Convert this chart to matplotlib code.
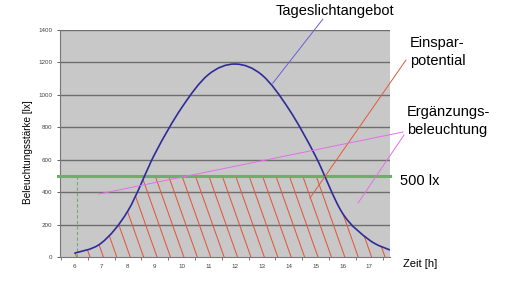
import numpy as np
import matplotlib.pyplot as plt
from matplotlib.lines import Line2D
from matplotlib.path import Path
from matplotlib.patches import PathPatch

# daylight curve
hours = [6, 7, 8, 9, 10, 11, 12, 13, 14, 15, 16, 17, 17.77]
lux = [23, 85, 285, 635, 920, 1125, 1190, 1122, 912, 620, 270, 105, 43]
target = 500
y_ticks = [0, 200, 400, 600, 800, 1000, 1200, 1400]
x_ticks = list(range(6, 18))


def smooth_path(xs, ys, close_to=None):
    # smoothed line like the spreadsheet one (catmull-rom -> bezier)
    p = np.column_stack([xs, ys]).astype(float)
    n = len(p)
    verts, codes = [], []
    if close_to is not None:
        verts += [(p[0, 0], close_to), tuple(p[0])]
        codes += [Path.MOVETO, Path.LINETO]
    else:
        verts += [tuple(p[0])]
        codes += [Path.MOVETO]
    for i in range(n - 1):
        p0 = p[max(i - 1, 0)]
        p1, p2 = p[i], p[i + 1]
        p3 = p[min(i + 2, n - 1)]
        c1 = p1 + (p2 - p0) / 6
        c2 = p2 - (p3 - p1) / 6
        verts += [tuple(c1), tuple(c2), tuple(p2)]
        codes += [Path.CURVE4] * 3
    if close_to is not None:
        verts += [(p[-1, 0], close_to), (p[0, 0], close_to)]
        codes += [Path.LINETO, Path.CLOSEPOLY]
    return Path(verts, codes)


W, H = 506, 283
fig = plt.figure(figsize=(W / 100, H / 100), dpi=100)
plt.rcParams['font.family'] = ['Liberation Sans', 'DejaVu Sans']
ax = fig.add_axes([60 / W, 1 - 257 / H, 330 / W, 227 / H])
ax.set_facecolor('#c8c8c8')

ax.set_xlim(5.467, 17.77)
ax.set_ylim(0, 1400)

# gridlines
for v in y_ticks[1:]:
    ax.axhline(v, color='#6e6e6e', lw=1.0, zorder=1)

# hatched area below the curve and below 500 lx
clip = smooth_path(hours, lux, close_to=0)
for xb in np.arange(5.085, 18.6, 0.5):
    ln, = ax.plot([xb - 1.07, xb], [target, 0], color='#e2583e', lw=0.75, zorder=2)
    ln.set_clip_path(clip, ax.transData)

# 500 lx line + dashed marker at 6h
ax.plot([5.4, 17.77], [target, target], color='#6dae6d', lw=2.2, zorder=4, clip_on=False)
ax.plot([6.1, 6.1], [0, target], color='#6dae6d', lw=0.8, ls=(0, (3, 2)), zorder=3)

# daylight curve
ax.add_patch(PathPatch(smooth_path(hours, lux), facecolor='none',
                       edgecolor='#2f2c98', lw=1.2, zorder=5))

ax.set_yticks(y_ticks)
ax.set_xticks(x_ticks)
ax.set_xticks(np.arange(5.5, 17.8, 1.0), minor=True)
ax.tick_params(axis='both', labelsize=4.5, colors='#444444', length=2, width=0.6)
ax.tick_params(axis='x', which='major', length=0, pad=5)
ax.tick_params(axis='x', which='minor', length=2, width=0.6, color='#666666')
for s in ['top', 'right']:
    ax.spines[s].set_visible(False)
for s in ['left', 'bottom']:
    ax.spines[s].set_color('#777777')
    ax.spines[s].set_linewidth(0.8)

fig.text(28 / W, 1 - 152 / H, 'Beleuchtungsstärke [lx]', rotation=90,
         ha='center', va='center', fontsize=7.2)


def px_line(x0, y0, x1, y1, color):
    fig.add_artist(Line2D([x0 / W, x1 / W], [1 - y0 / H, 1 - y1 / H],
                          color=color, lw=0.7, zorder=6))


def px_text(x, y, s, **kw):
    fig.text(x / W, 1 - y / H, s, fontsize=10.5, va='center', **kw)


px_text(335, 11, 'Tageslichtangebot', ha='center')
px_line(322.7, 19.3, 272.7, 83.3, '#6a5fd8')

px_text(410, 43, 'Einspar-')
px_text(410, 61, 'potential')
px_line(406, 60, 310, 198, '#e2583e')

px_text(407, 112, 'Ergänzungs-')
px_text(407, 130, 'beleuchtung')
px_line(403, 132, 99, 194, '#e070e8')
px_line(404, 135, 358, 203, '#e070e8')

px_text(400, 181, '500 lx')
fig.text(403 / W, 1 - 264 / H, 'Zeit [h]', fontsize=8, va='center')

fig.savefig('out.png', dpi=100)
